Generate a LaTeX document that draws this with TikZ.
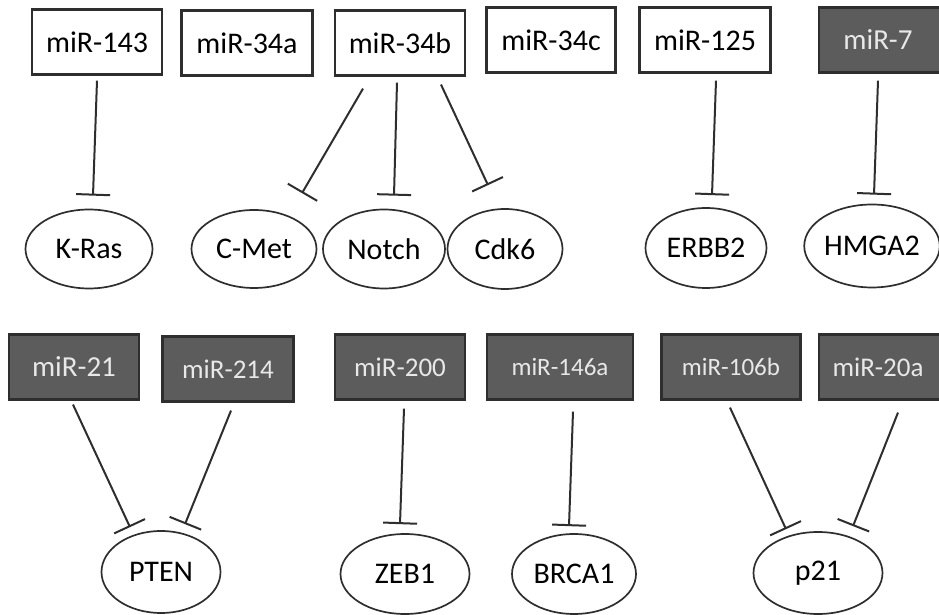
\documentclass[tikz,border=0pt]{standalone}
\usepackage{fontspec}
\setmainfont{Carlito}
\usepackage{xcolor}
\usetikzlibrary{arrows.meta, shapes.geometric}
\definecolor{mirdark}{HTML}{5C5C5C}
\definecolor{mirtext}{HTML}{E8E8E8}
\definecolor{edge}{HTML}{2E2E2E}

\begin{document}
\begin{tikzpicture}[x=1pt, y=1pt,
      every node/.style={font=\fontsize{30}{36}\selectfont},
      mir/.style={draw=edge, line width=2.2pt, fill=white,
                  minimum width=130pt, minimum height=65pt,
                  inner sep=0pt, text=black},
      mirfill/.style={mir, fill=mirdark, text=mirtext,
                      font=\fontsize{27}{32}\selectfont},
      gene/.style={draw=edge, ellipse, line width=1.7pt,
                   minimum width=124pt, minimum height=80pt, inner sep=0pt},
      inh/.style={-{Bar[width=34pt, line width=2pt]}, line width=2pt, edge},
    ]
    \useasboundingbox (0,0) rectangle (939,615);

    % microRNA boxes, top row
    \node[mir]                       (m143)  at (97,573) {miR-143};
    \node[mir, minimum width=131pt]  (m34a)  at (247,572) {miR-34a};
    \node[mir]                       (m34b)  at (400,572) {miR-34b};
    \node[mir, minimum width=129pt]  (m34c)  at (551,575) {miR-34c};
    \node[mir, minimum width=131pt]  (m125)  at (705,575) {miR-125};
    \node[mirfill, minimum width=140pt,
          font=\fontsize{29}{34}\selectfont] (m7) at (889,575) {\hspace*{-22pt}miR-7};

    % target genes, top row
    \node[gene, minimum width=127pt, minimum height=79pt] (kras)  at (89,366)  {K-Ras};
    \node[gene, minimum width=125pt, minimum height=78pt] (cmet)  at (254,366) {C-Met};
    \node[gene, minimum width=122pt, minimum height=79pt] (notch) at (384,366) {Notch};
    \node[gene, minimum width=115pt]                      (cdk6)  at (505,366) {Cdk6};
    \node[gene, minimum width=121pt]                      (erbb2) at (706,367) {ERBB2};
    \node[gene, minimum width=125pt, minimum height=83pt] (hmga2) at (872,369) {HMGA2};

    % microRNA boxes, bottom row
    \node[mirfill, font=\fontsize{29}{34}\selectfont] (m21) at (74,248) {miR-21};
    \node[mirfill, minimum width=131pt] (m214)  at (228,246) {miR-214};
    \node[mirfill]                      (m200)  at (400,248) {miR-200};
    \node[mirfill, minimum width=146pt,
          font=\fontsize{25}{30}\selectfont] (m146a) at (560,248) {miR-146a};
    \node[mirfill, minimum width=139pt,
          font=\fontsize{25}{30}\selectfont] (m106b) at (731,248) {miR-106b};
    \node[mirfill, minimum width=140pt] (m20a)  at (889,248) {\hspace*{-22pt}miR-20a};

    % target genes, bottom row
    \node[gene, minimum width=119pt, minimum height=82pt] (pten)  at (161,43) {PTEN};
    \node[gene, minimum width=129pt]                      (zeb1)  at (405,41) {ZEB1};
    \node[gene]                                           (brca1) at (574,41) {BRCA1};
    \node[gene, minimum width=129pt, minimum height=82pt] (p21)   at (818,42) {p21};

    % inhibition, top row
    \draw[inh] ([yshift=-5pt]m143.south) -- ([xshift=4pt, yshift=13pt]kras.north);
    \draw[inh] ([xshift=-37pt, yshift=-12pt]m34b.south) -- ([xshift=48pt, yshift=16pt]cmet.north);
    \draw[inh] ([xshift=-3pt, yshift=-6pt]m34b.south) -- ([xshift=10pt, yshift=13pt]notch.north);
    \draw[inh] ([xshift=41pt, yshift=-8pt]m34b.south) -- ([xshift=-17pt, yshift=23pt]cdk6.north);
    \draw[inh] ([xshift=11pt, yshift=-7pt]m125.south) -- ([xshift=6pt, yshift=12pt]erbb2.north);
    \draw[inh] ([xshift=-11pt, yshift=-7pt]m7.south) -- ([xshift=2pt, yshift=9pt]hmga2.north);

    % inhibition, bottom row
    \draw[inh] ([xshift=-1pt, yshift=-4pt]m21.south) -- ([xshift=-31pt, yshift=3pt]pten.north);
    \draw[inh] ([xshift=3pt, yshift=-8pt]m214.south) -- ([xshift=24pt, yshift=6pt]pten.north);
    \draw[inh] ([xshift=4pt, yshift=-8pt]m200.south) -- ([xshift=-5pt, yshift=9pt]zeb1.north);
    \draw[inh] ([xshift=13pt, yshift=-11pt]m146a.south) -- ([xshift=-5pt, yshift=7pt]brca1.north);
    \draw[inh] ([xshift=-1pt, yshift=-7pt]m106b.south) -- ([xshift=-32pt, yshift=2pt]p21.north);
    \draw[inh] ([xshift=9pt, yshift=-12pt]m20a.south) -- ([xshift=35pt, yshift=5pt]p21.north);
  \end{tikzpicture}
\end{document}
